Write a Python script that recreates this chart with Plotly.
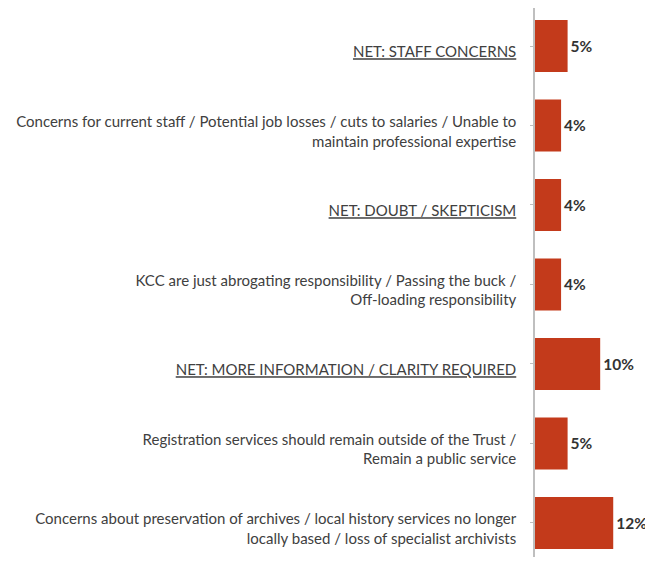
import plotly.graph_objects as go

categories = [
    "<u>NET: STAFF CONCERNS</u>",
    "Concerns for current staff / Potential job losses / cuts to salaries / Unable to<br>maintain professional expertise",
    "<u>NET: DOUBT / SKEPTICISM</u>",
    "KCC are just abrogating responsibility / Passing the buck /<br>Off-loading responsibility",
    "<u>NET: MORE INFORMATION / CLARITY REQUIRED</u>",
    "Registration services should remain outside of the Trust /<br>Remain a public service",
    "Concerns about preservation of archives / local history services no longer<br>locally based / loss of specialist archivists",
]
values = [5, 4, 4, 4, 10, 5, 12]
labels = [f"{v}%" for v in values]

fig = go.Figure(go.Bar(
    x=values, y=list(range(len(categories))), orientation="h",
    marker=dict(color="#C33A1B", line=dict(width=0)),
    text=labels, textposition="outside", cliponaxis=False,
    textfont=dict(family="Lato", size=15.5, color="#333333", weight="bold"),
))
fig.update_layout(
    width=645, height=549,
    margin=dict(l=527, r=0, t=0, b=0, autoexpand=False),
    plot_bgcolor="white", paper_bgcolor="white",
    bargap=0.346, showlegend=False,
    font=dict(family="Lato", size=15, color="#404040"),
)
fig.update_xaxes(range=[0, 18.1], visible=False, fixedrange=True)
fig.update_yaxes(
    tickmode="array", tickvals=list(range(len(categories))), ticktext=categories,
    range=[6.428, -0.478],
    showline=True, linecolor="#BFBFBF", linewidth=1.5,
    ticks="outside", tickson="boundaries", ticklen=3, tickcolor="#BFBFBF",
    ticklabelstandoff=11, ticklabelshift=-6,
    showgrid=False, zeroline=False, automargin=False,
)
fig.write_html("out.html")
